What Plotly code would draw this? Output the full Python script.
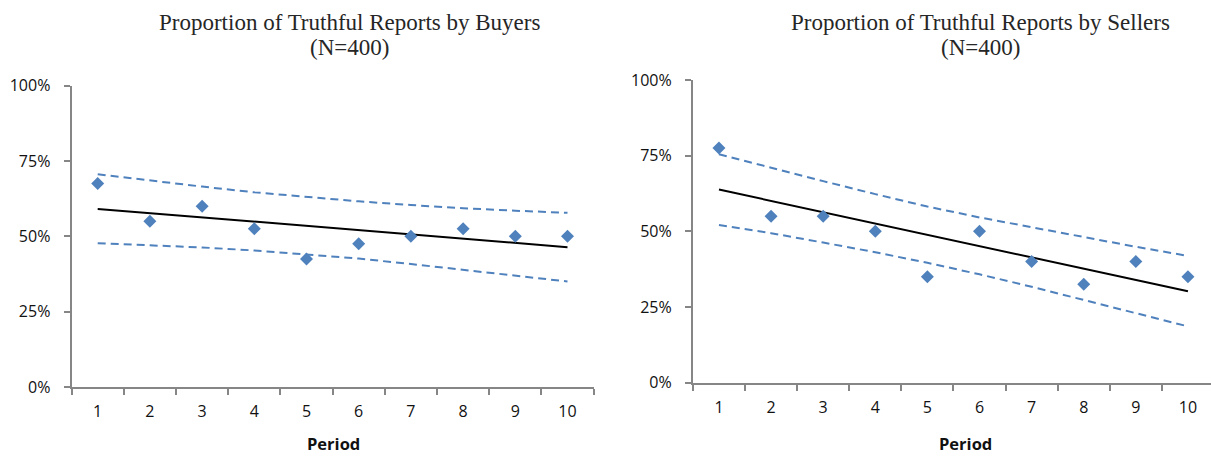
import plotly.graph_objects as go

periods = ["1", "2", "3", "4", "5", "6", "7", "8", "9", "10"]

buyers = [67.5, 55.0, 60.0, 52.5, 42.5, 47.5, 50.0, 52.5, 50.0, 50.0]
buyers_trend_x = ["1", "10"]
buyers_trend = [59.1, 46.4]
buyers_upper = [70.6, 68.5, 66.5, 64.6, 63.0, 61.6, 60.4, 59.3, 58.5, 57.8]
buyers_lower = [47.7, 47.0, 46.3, 45.3, 44.0, 42.6, 40.8, 38.9, 37.0, 35.0]

sellers = [77.5, 55.0, 55.0, 50.0, 35.0, 50.0, 40.0, 32.5, 40.0, 35.0]
sellers_trend_x = ["1", "10"]
sellers_trend = [63.8, 30.2]
sellers_upper = [75.5, 71.0, 66.6, 62.3, 58.2, 54.6, 51.3, 48.1, 44.9, 41.9]
sellers_lower = [52.1, 49.4, 46.3, 43.1, 39.6, 35.8, 31.7, 27.4, 23.0, 18.6]

y_ticks = [0, 25, 50, 75, 100]
y_labels = ["0%", "25%", "50%", "75%", "100%"]

titles = ["Proportion of Truthful Reports by Buyers", "Proportion of Truthful Reports by Sellers"]
subtitle = "(N=400)"
x_title = "Period"

BLUE = "#4F81BD"
AXIS = "#868686"
W, H = 1211, 456

fig = go.Figure()

def add_panel(vals, tx, ty, up, lo, xa, ya):
    fig.add_trace(go.Scatter(x=periods, y=up, mode="lines", xaxis=xa, yaxis=ya,
                             line=dict(color=BLUE, width=2, dash="8px,5px"), showlegend=False))
    fig.add_trace(go.Scatter(x=periods, y=lo, mode="lines", xaxis=xa, yaxis=ya,
                             line=dict(color=BLUE, width=2, dash="8px,5px"), showlegend=False))
    fig.add_trace(go.Scatter(x=tx, y=ty, mode="lines", xaxis=xa, yaxis=ya,
                             line=dict(color="black", width=2), showlegend=False))
    fig.add_trace(go.Scatter(x=periods, y=vals, mode="markers", xaxis=xa, yaxis=ya,
                             marker=dict(symbol="diamond", size=10, color=BLUE), showlegend=False))

add_panel(buyers, buyers_trend_x, buyers_trend, buyers_upper, buyers_lower, "x", "y")
add_panel(sellers, sellers_trend_x, sellers_trend, sellers_upper, sellers_lower, "x2", "y2")

tickfont = dict(family="Open Sans", size=16, color="#111111")

def xaxis(dom, rng):
    return dict(domain=dom, type="category", range=rng, showline=True, linecolor=AXIS, linewidth=2,
                ticks="outside", tickson="boundaries", ticklen=6, tickcolor=AXIS, tickwidth=1.5,
                showgrid=False, zeroline=False, tickfont=tickfont, ticklabelstandoff=9,
                automargin=False, fixedrange=True)

def yaxis(dom, anchor):
    return dict(domain=dom, range=[0, 100], anchor=anchor, showline=True, linecolor=AXIS, linewidth=2,
                ticks="outside", ticklen=6, tickcolor=AXIS, tickwidth=1.5, tickvals=y_ticks,
                ticktext=y_labels, showgrid=False, zeroline=False, tickfont=tickfont,
                ticklabelstandoff=10, automargin=False, fixedrange=True)

left_x = [71.6 / W, 593.6 / W]
right_x = [692.9 / W, 1.0]
left_y = [(H - 386.9) / H, (H - 85.7) / H]
right_y = [(H - 382.7) / H, (H - 80.0) / H]

fig.update_layout(
    width=W, height=H, margin=dict(l=0, r=0, t=0, b=0, autoexpand=False),
    paper_bgcolor="white", plot_bgcolor="white", hovermode=False,
    xaxis=dict(**xaxis(left_x, [-0.5, 9.5]), anchor="y"),
    yaxis=yaxis(left_y, "x"),
    xaxis2=dict(**xaxis(right_x, [-0.5, 9.5 - 3 / 52.1]), anchor="y2"),
    yaxis2=yaxis(right_y, "x2"),
)

titlefont = dict(family="Liberation Serif", size=23, color="#262626")
for cx, t in [(349, titles[0]), (980, titles[1])]:
    fig.add_annotation(x=cx / W, y=1 - 22 / H, xref="paper", yref="paper", text=t,
                       showarrow=False, font=titlefont, xanchor="center", yanchor="middle")
    fig.add_annotation(x=cx / W, y=1 - 47 / H, xref="paper", yref="paper", text=subtitle,
                       showarrow=False, font=titlefont, xanchor="center", yanchor="middle")

for cx in [333, 965]:
    fig.add_annotation(x=cx / W, y=1 - 443 / H, xref="paper", yref="paper", text="<b>" + x_title + "</b>",
                       showarrow=False, font=dict(family="Open Sans", size=16.5, color="#111111"),
                       xanchor="center", yanchor="middle")

fig.write_html("out.html", config={"displayModeBar": False},
               post_script="document.body.style.margin='0';document.body.style.overflow='hidden';")
